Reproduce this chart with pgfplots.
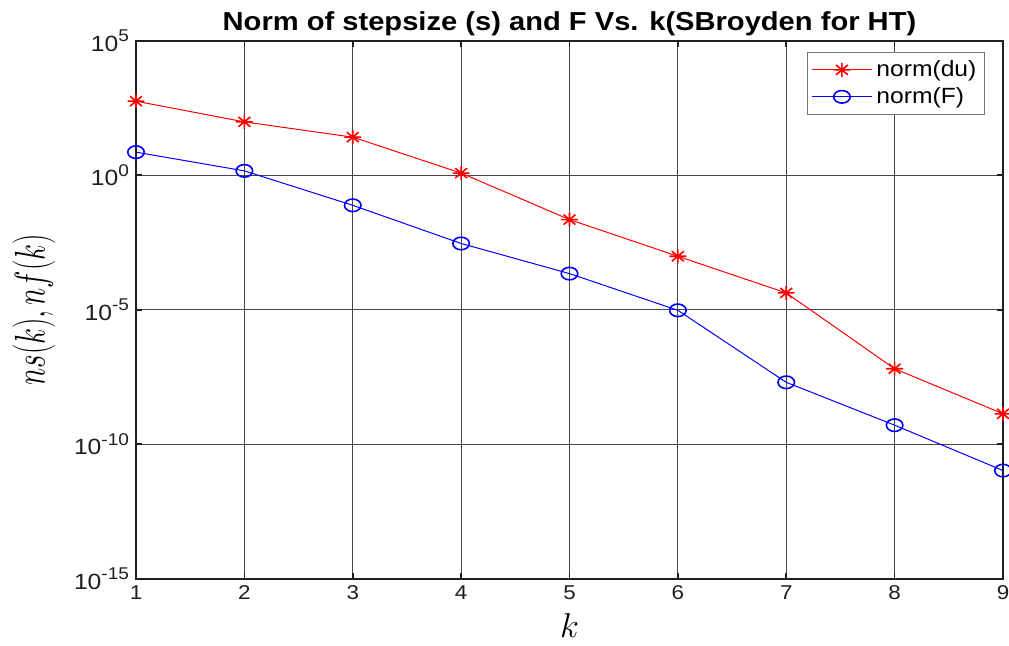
\documentclass[border=0pt]{standalone}
\usepackage{pgfplots}
\pgfplotsset{compat=1.18}
\usepackage{fontspec}
\setmainfont{Liberation Sans}[FakeStretch=1.12]
\newcommand\tp[1]{10\raisebox{4.8pt}{\fontsize{8.5}{9}\selectfont#1}}
\pgfdeclareplotmark{mstar}{%
  \pgfpathmoveto{\pgfqpoint{-\pgfplotmarksize}{0pt}}\pgfpathlineto{\pgfqpoint{\pgfplotmarksize}{0pt}}%
  \pgfpathmoveto{\pgfqpoint{0pt}{-\pgfplotmarksize}}\pgfpathlineto{\pgfqpoint{0pt}{\pgfplotmarksize}}%
  \pgfpathmoveto{\pgfqpoint{-0.707\pgfplotmarksize}{-0.707\pgfplotmarksize}}\pgfpathlineto{\pgfqpoint{0.707\pgfplotmarksize}{0.707\pgfplotmarksize}}%
  \pgfpathmoveto{\pgfqpoint{-0.707\pgfplotmarksize}{0.707\pgfplotmarksize}}\pgfpathlineto{\pgfqpoint{0.707\pgfplotmarksize}{-0.707\pgfplotmarksize}}%
  \pgfusepathqstroke}
\begin{document}
\begin{tikzpicture}
\begin{semilogyaxis}[
  scale only axis, width=433.5pt, height=269pt,
  xmin=1, xmax=9, ymin=1e-15, ymax=1e5,
  xtick={1,2,3,4,5,6,7,8,9},
  xticklabels={1,2,3,4,5,6,7,8,9},
  ytick={1e-15,1e-10,1e-5,1,1e5},
  yticklabels={\tp{-15},\tp{-10},\tp{-5},\tp{0},\tp{5}},
  yminorticks=false,
  grid=major,
  major grid style={draw=black!72, line width=0.55pt},
  axis line style={draw=black!88, line width=0.8pt},
  tick style={draw=black!88, line width=0.8pt},
  tick align=inside, major tick length=3pt,
  xticklabel style={font=\fontsize{10}{12}\selectfont, text=black!88},
  yticklabel style={font=\fontsize{11}{12}\selectfont, text=black!88},
  title={\bfseries Norm of stepsize (s) and F Vs. k(SBroyden for HT)},
  title style={font=\fontsize{13}{15}\selectfont, yshift=-7pt},
  xlabel={$k$}, ylabel={\scalebox{0.85}[1.24]{$ns(k), nf(k)$}},
  label style={font=\fontsize{17}{20}\selectfont},
  xlabel style={inner sep=0pt, yshift=-3pt},
  ylabel style={yshift=2.5pt},
  legend style={at={(0.979,0.979)}, anchor=north east, draw=black!55,
    font=\fontsize{11}{13}\selectfont, row sep=0pt, inner sep=2pt},
  legend cell align=left,
  legend image code/.code={\draw[mark repeat=2, mark phase=2, #1] plot coordinates {(0pt,0pt) (15pt,0pt) (30pt,0pt)};},
]
\addplot[red, line width=0.5pt, mark=mstar, mark size=3.5pt, mark options={xscale=1.2, line width=0.8pt}] coordinates {
 (1,565) (2,96) (3,26) (4,1.2) (5,0.0224) (6,9.7e-4) (7,4.2e-5) (8,6.4e-8) (9,1.35e-9)};
\addlegendentry{norm(du)}
\addplot[blue, line width=0.5pt, mark=o, mark size=3.3pt, mark options={xscale=1.25, yscale=0.95, line width=0.8pt}] coordinates {
 (1,7.2) (2,1.45) (3,0.076) (4,2.9e-3) (5,2.2e-4) (6,9.5e-6) (7,2.0e-8) (8,5.1e-10) (9,1.05e-11)};
\addlegendentry{norm(F)}
\end{semilogyaxis}
\pgfresetboundingbox
\path[use as bounding box] (-68pt,-33.15pt) rectangle (436.5pt,289.35pt);
\end{tikzpicture}
\end{document}
